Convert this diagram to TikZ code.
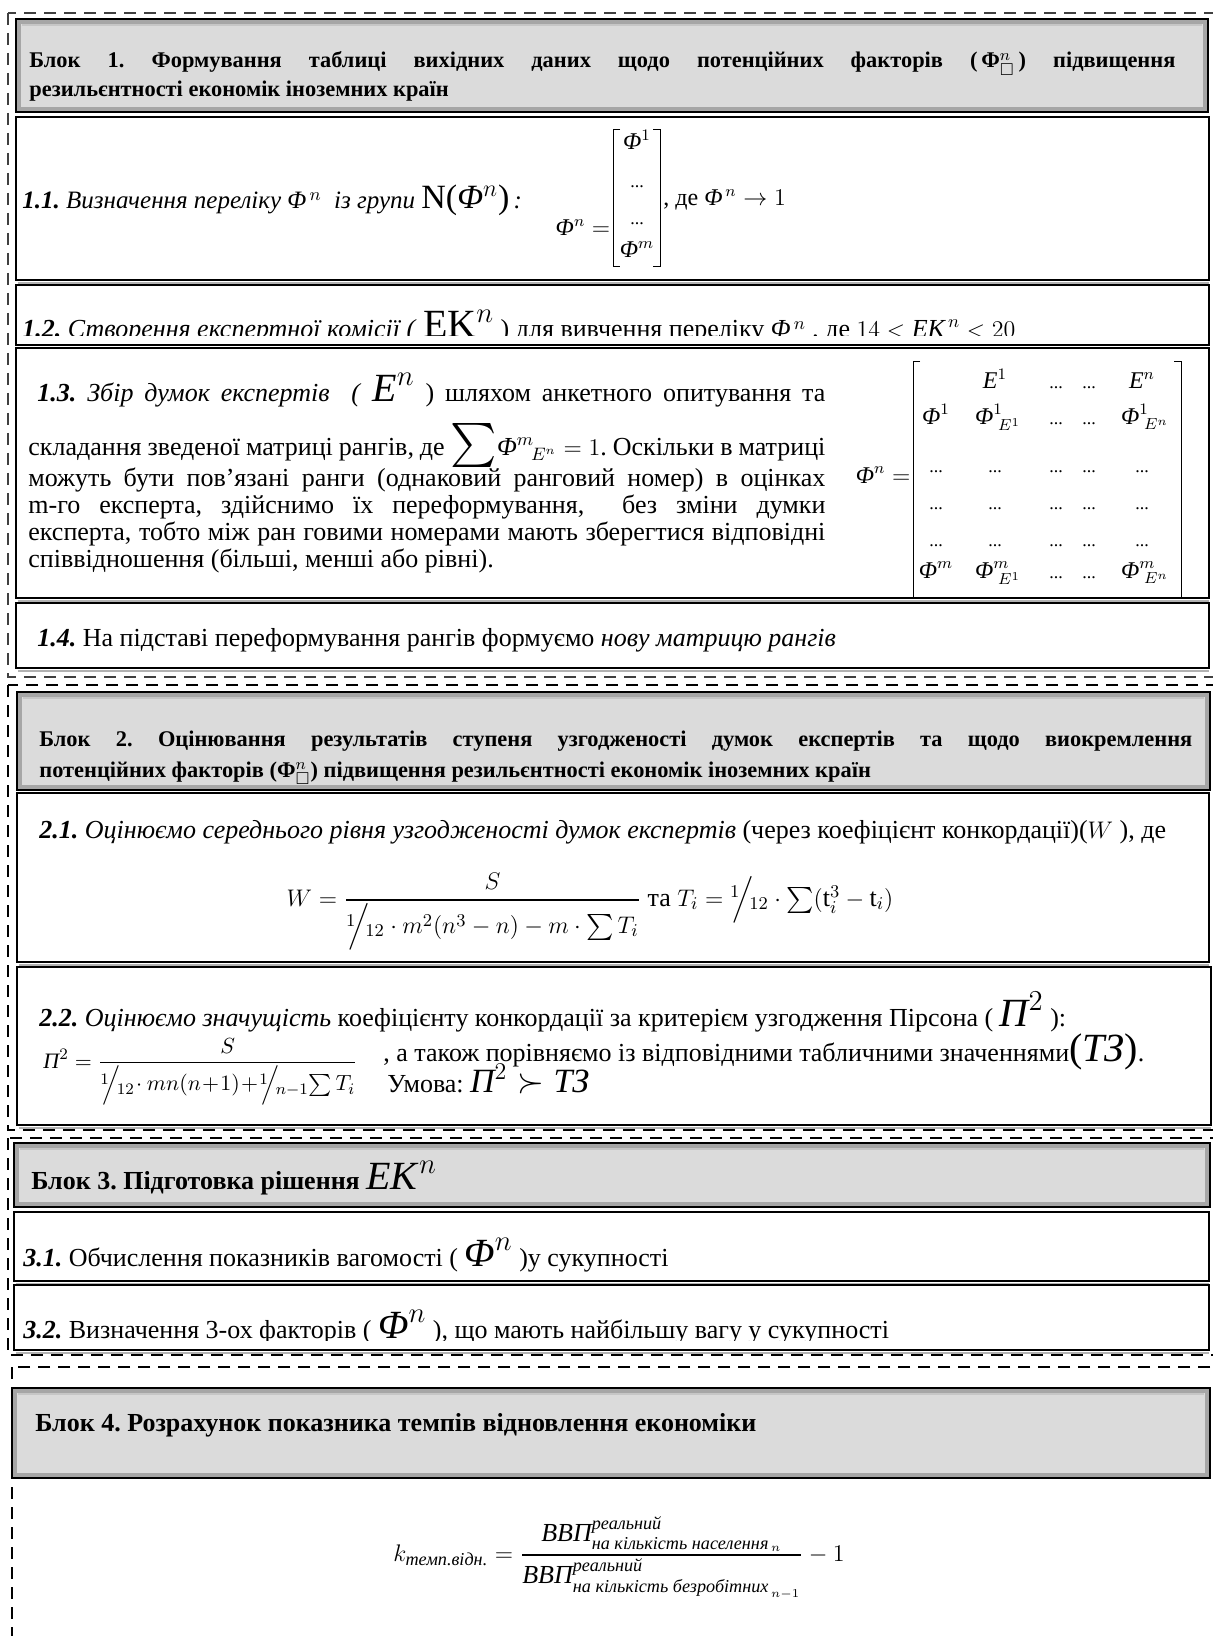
\documentclass[tikz,border=0pt]{standalone}
\usepackage{amsmath,amssymb}
\usepackage{fontspec}
\setmainfont{Liberation Serif}
\usetikzlibrary{calc}
\frenchspacing
\newcommand{\Fi}{\text{\itshape Φ}}
\newcommand{\ci}[1]{\text{\itshape #1}}
\newcommand{\bodyfont}{\fontsize{13}{15}\selectfont}
\newcommand{\hdrfont}{\fontsize{11.2}{14}\selectfont\bfseries}
\newcommand{\hdrfontB}{\fontsize{13}{15}\selectfont\bfseries}
\newcommand{\bigf}{\fontsize{20}{20}\selectfont}
\newcommand{\Dots}{{\fontsize{9}{9}\selectfont ...}}
\newcommand{\slf}[2]{{}^{#1}\!\!\Big/\!{}_{#2}}
\newcommand{\HeaderBox}[4]{%
  \fill[gray!28] (#1,#2) rectangle (#3,#4);
  \draw[gray!70, line width=1.6pt] (#1+3,#2+3) rectangle (#3-3,#4-3);
  \draw[gray!45, line width=1pt] (#1+6,#2+6) -- (#3-6,#2+6);
  \draw[black, line width=1.1pt] (#1,#2) rectangle (#3,#4);}
\newcommand{\WBox}[4]{%
  \draw[wbox] (#1,#2) rectangle (#3,#4);
  \draw[gray!60, line width=0.6pt] (#1+2,#4+3) -- (#3,#4+3);}
\tikzset{
  frame/.style={draw=black, line width=0.9pt, dash pattern=on 6pt off 4pt},
  wbox/.style={fill=white, draw=black, line width=0.9pt},
  txt/.style={anchor=base west, inner sep=0pt, font=\bodyfont},
  htxt/.style={anchor=base west, inner sep=0pt, font=\hdrfont},
  htxtB/.style={anchor=base west, inner sep=0pt, font=\hdrfontB},
  mx/.style={anchor=base, inner sep=0pt, font=\fontsize{12}{14}\selectfont},
  brk/.style={draw=black, line width=0.5pt},
}
\begin{document}
\begin{tikzpicture}[x=0.5pt,y=-0.5pt]
\useasboundingbox (0,0) rectangle (1213,1636);
\fill[white] (0,0) rectangle (1213,1636);

% ---------------- Block 1 ----------------
\draw[frame, draw=black!75] (8,13) rectangle (1218,677);
\HeaderBox{16}{19}{1208}{112}
\node[htxt] (h1a) at (29,68) {\makebox[573pt][s]{Блок 1. Формування таблиці вихідних даних щодо потенційних факторів (\,Φ$^{n}_{\square}$\,) підвищення}};
\node[htxt] (h1b) at (29,97) {резильєнтності економік іноземних країн};

\WBox{16}{117}{1209}{280}
\node[anchor=base west, inner sep=0pt, font=\fontsize{12.5}{14}\selectfont] (t11) at (22,209) {\textbf{\textit{1.1.}} \textit{Визначення переліку} \textit{Φ}$^{\,n}$ \ \textit{із групи} {\fontsize{17}{17}\selectfont N(\textit{Φ}$^{n}$)}\,\textit{:}};
\node[anchor=base, inner sep=0pt, font=\fontsize{12}{14}\selectfont] (m11eq) at (583,236) {$\Fi^{n} =$};
\draw[brk] (620,130) -- (613,130) -- (613,267) -- (620,267);
\draw[brk] (653,130) -- (660,130) -- (660,267) -- (653,267);
\node[mx] (m11a) at (637,150) {$\Fi^{1}$};
\node[mx] (m11b) at (637,188) {\Dots};
\node[mx] (m11c) at (637,225) {\Dots};
\node[mx] (m11d) at (637,258) {$\Fi^{m}$};
\node[anchor=base west, inner sep=0pt, font=\fontsize{12}{14}\selectfont] (t11b) at (663,206) {, де $\Fi^{\,n}\to 1$};

\WBox{16}{285}{1209}{345}
\begin{scope}
\clip (16,285) rectangle (1209,336);
\node[txt] (t12) at (22,338) {\textbf{\textit{1.2.}} \textit{Створення експертної комісії (} {\bigf EK$^{n}$} ) для вивчення переліку \textit{Φ}$^{\,n}$ , де $14 < \ci{EK}^{\,n} < 20$};
\end{scope}

\WBox{16}{348}{1209}{598}
\node[txt] (t13a) at (37,401) {\makebox[394pt][s]{\textbf{\textit{1.3.}} \textit{Збір думок експертів} \ \textit{(} {\bigf\textit{E}$^{n}$} ) шляхом анкетного опитування та}};
\node[txt] (t13b) at (28,456) {\makebox[398.5pt][s]{складання зведеної матриці рангів, де {\fontsize{22}{22}\selectfont$\sum$}$\Fi^{m}{}_{\!E^{n}} =1$. Оскільки в матриці}};
\node[txt] (t13c) at (28,486) {\makebox[398.5pt][s]{можуть бути пов'язані ранги (однаковий ранговий номер) в оцінках}};
\node[txt] (t13d) at (28,513) {\makebox[398.5pt][s]{m-го експерта, здійснимо їх переформування, \ без зміни думки}};
\node[txt] (t13e) at (28,540) {\makebox[398.5pt][s]{експерта, тобто між ран говими номерами мають зберегтися відповідні}};
\node[txt] (t13f) at (28,567) {співвідношення (більші, менші або рівні).};
% matrix 1.3
\node[anchor=base, inner sep=0pt, font=\fontsize{12}{14}\selectfont] (m13eq) at (883,483) {$\Fi^{n} =$};
\begin{scope}
\clip (16,348) rectangle (1209,596);
\draw[brk] (920,362) -- (913,362) -- (913,600);
\draw[brk] (1174,362) -- (1181,362) -- (1181,600);
\end{scope}
\node[mx] (m-1-2) at (995,389) {$\ci{E}^{1}$};
\node[mx] (m-1-3) at (1056,389) {\Dots};
\node[mx] (m-1-4) at (1089,389) {\Dots};
\node[mx] (m-1-5) at (1142,389) {$\ci{E}^{n}$};
\node[mx] (m-2-1) at (936,424) {$\Fi^{1}$};
\node[mx] (m-2-2) at (998,424) {$\Fi^{1}_{\;E^{1}}$};
\node[mx] (m-2-3) at (1056,424) {\Dots};
\node[mx] (m-2-4) at (1089,424) {\Dots};
\node[mx] (m-2-5) at (1145,424) {$\Fi^{1}_{\;E^{n}}$};
\foreach \r/\yy in {3/473,4/509,5/546}{
  \foreach \c/\xx in {1/936,2/995,3/1056,4/1089,5/1142}{
    \node[mx] (m-\r-\c) at (\xx,\yy) {\Dots};
  }
}
\node[mx] (m-6-1) at (936,578) {$\Fi^{m}$};
\node[mx] (m-6-2) at (998,578) {$\Fi^{m}_{\;E^{1}}$};
\node[mx] (m-6-3) at (1056,578) {\Dots};
\node[mx] (m-6-4) at (1089,578) {\Dots};
\node[mx] (m-6-5) at (1145,578) {$\Fi^{m}_{\;E^{n}}$};

\WBox{16}{603}{1209}{668}
\node[txt] (t14) at (37,646) {\textbf{\textit{1.4.}} На підставі переформування рангів формуємо \textit{нову матрицю рангів}};

% ---------------- Block 2 ----------------
\draw[frame] (8,685) rectangle (1218,1130);
\HeaderBox{17}{692}{1210}{790}
\node[htxt] (h2a) at (39,746) {\makebox[576.5pt][s]{Блок 2. Оцінювання результатів ступеня узгодженості думок експертів та щодо виокремлення}};
\node[htxt] (h2b) at (39,777) {потенційних факторів (Φ$^{n}_{\square}$) підвищення резильєнтності економік іноземних країн};

\WBox{17}{793}{1209}{962}
\node[txt] (t21) at (39,838) {\textbf{\textit{2.1.}} \textit{Оцінюємо середнього рівня узгодженості думок експертів} (через коефіцієнт конкордації)($W$ ), де};
\node[anchor=base, inner sep=0pt, font=\fontsize{13}{15}\selectfont] (f21) at (590,906) {$W=\dfrac{S}{\slf{1}{12}\cdot m^{2}(n^{3}-n)-m\cdot\sum T_{i}}$ та $T_{i}=\slf{1}{12}\cdot\sum(\mathrm{t}_{i}^{3}-\mathrm{t}_{i})$};

\WBox{17}{967}{1211}{1125}
\node[txt] (t22) at (39,1026) {\textbf{\textit{2.2.}} \textit{Оцінюємо значущість} коефіцієнту конкордації за критерієм узгодження Пірсона ( {\bigf$\ci{П}^{2}$} ):};
\node[anchor=base west, inner sep=0pt, font=\fontsize{11}{13}\selectfont] (f22) at (43,1068) {$\ci{П}^{2}=\dfrac{S}{\slf{1}{12}\!\cdot mn(n\!+\!1)\!+\!\slf{1}{n-1}\!\sum T_{i}}$};
\node[txt] (t22b) at (383,1061) {, а також порівняємо із відповідними табличними значеннями{\bigf($\ci{ТЗ}$)}.};
\node[txt] (t22c) at (387,1092) {Умова: {\fontsize{17}{17}\selectfont$\ci{П}^{2}\succ\ci{ТЗ}$}};

% ---------------- Block 3 ----------------
\draw[frame] (8,1138) rectangle (1218,1355);
\HeaderBox{14}{1143}{1210}{1207}
\node[htxtB] (h3) at (31,1189) {Блок 3. Підготовка рішення {\mdseries\bigf\textit{EK}$^{n}$}};
\WBox{14}{1212}{1209}{1281}
\node[txt] (t31) at (23,1266) {\textbf{\textit{3.1.}} Обчислення показників вагомості ( {\bigf$\Fi^{n}$} )у сукупності};
\WBox{14}{1285}{1209}{1350}
\begin{scope}
\clip (14,1285) rectangle (1209,1340);
\node[txt] (t32) at (23,1338) {\textbf{\textit{3.2.}} Визначення 3-ох факторів ( {\bigf$\Fi^{n}$} ), що мають найбільшу вагу у сукупності};
\end{scope}

% ---------------- Block 4 ----------------
\draw[frame] (12,1367) rectangle (1218,1660);
\HeaderBox{12}{1388}{1210}{1478}
\node[htxtB] (h4) at (35,1431) {Блок 4. Розрахунок показника темпів відновлення економіки};
\node[anchor=base, inner sep=0pt, font=\fontsize{13}{15}\selectfont] (f4) at (619,1561) {$k_{\ci{темп.відн.}}=\dfrac{\ci{ВВП}^{\ci{реальний}}_{\ci{на кількість населення}_{\,n}}}{\ci{ВВП}^{\ci{реальний}}_{\ci{на кількість безробітних}_{\,n-1}}}-1$};
\end{tikzpicture}
\end{document}
